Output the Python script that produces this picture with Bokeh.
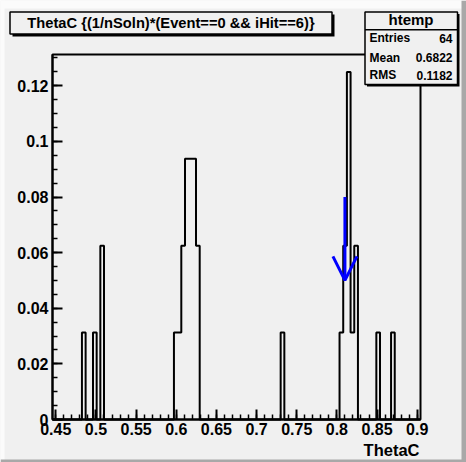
import numpy as np
from bokeh.plotting import figure
from bokeh.models import (Range1d, FixedTicker, CustomJSTickFormatter, Label,
                          BoxAnnotation, Arrow, OpenHead)
from bokeh.embed import file_html
from bokeh.resources import INLINE

# ---------------- data ----------------
title_text = "ThetaC {(1/nSoln)*(Event==0 && iHit==6)}"
x_axis_title = "ThetaC"
stats_name = "htemp"
stats_labels = ["Entries", "Mean", "RMS"]
stats_values = ["64", "0.6822", "0.1182"]

n_bins = 100
x_min, x_max = 0.4459, 0.9041
y_max = 0.13125
filled_bins = [8, 11, 13, 33, 34, 35, 36, 37, 38, 39, 62, 78, 79, 80, 81, 82, 88, 92]
bin_contents = [0.03125, 0.03125, 0.0625, 0.03125, 0.03125, 0.0625, 0.09375, 0.09375,
                0.09375, 0.0625, 0.03125, 0.03125, 0.0625, 0.125, 0.03125, 0.0625,
                0.03125, 0.03125]

x_major = [0.45, 0.5, 0.55, 0.6, 0.65, 0.7, 0.75, 0.8, 0.85, 0.9]
y_major = [0.0, 0.02, 0.04, 0.06, 0.08, 0.1, 0.12]

arrow_x = 0.81
arrow_y_start = 0.08
arrow_y_end = 0.05

# ---------------- layout ----------------
W, H = 466, 462
L, R, T, B = 52, 420, 54, 419       # histogram frame inside the canvas (px)
BG = "#f0f0f0"
FONT = "Liberation Sans"


def X(px):
    return x_min + (px - L) * (x_max - x_min) / (R - L)


def Y(py):
    return (B - py) * y_max / (B - T)


p = figure(width=W, height=H, output_backend="svg", toolbar_location=None,
           x_range=Range1d(X(0), X(W)), y_range=Range1d(Y(H), Y(0)),
           min_border=0)
p.background_fill_color = BG
p.border_fill_color = BG
p.outline_line_color = None
p.xgrid.visible = False
p.ygrid.visible = False

x_minor = [round(0.45 + 0.01 * i, 2) for i in range(46)]
y_minor = [round(0.005 * i, 3) for i in range(27)]
fmt = CustomJSTickFormatter(code="return String(parseFloat(tick.toFixed(4)));")

p.xaxis.fixed_location = 0.0
p.xaxis.bounds = (x_min, x_max)
p.yaxis.fixed_location = x_min
p.yaxis.bounds = (0.0, y_max)

for ax, maj, mnr in ((p.xaxis[0], x_major, x_minor), (p.yaxis[0], y_major, y_minor)):
    ax.ticker = FixedTicker(ticks=maj, minor_ticks=mnr)
    ax.formatter = fmt
    ax.major_tick_in = 10
    ax.major_tick_out = 0
    ax.minor_tick_in = 5
    ax.minor_tick_out = 0
    ax.axis_line_width = 2
    ax.major_tick_line_width = 2
    ax.minor_tick_line_width = 1.5
    ax.major_label_text_font = FONT
    ax.major_label_text_font_style = "bold"
    ax.major_label_text_font_size = "16px"
    ax.major_label_text_color = "black"
p.xaxis.major_label_standoff = 3
p.yaxis.major_label_standoff = 4

# frame (top / right edges)
p.add_layout(BoxAnnotation(left=x_min, right=x_max, bottom=0.0, top=y_max,
                           fill_color=None, line_color="black", line_width=2,
                           line_alpha=1.0))

# ---------------- histogram ----------------
edges = np.linspace(x_min, x_max, n_bins + 1)
contents = np.zeros(n_bins)
contents[filled_bins] = bin_contents
xs = np.concatenate([[edges[0]], np.repeat(edges, 2)[1:-1], [edges[-1]]])
ys = np.concatenate([[0.0], np.repeat(contents, 2), [0.0]])
p.line(xs, ys, line_color="black", line_width=2)

# ---------------- arrow ----------------
p.add_layout(Arrow(end=OpenHead(size=24, line_color="blue", line_width=3),
                   x_start=arrow_x, y_start=arrow_y_start,
                   x_end=arrow_x, y_end=arrow_y_end,
                   line_color="blue", line_width=3))


# ---------------- helpers ----------------
def box(l, t, r, b, fill, line=None, lw=0):
    p.add_layout(BoxAnnotation(left=X(l), right=X(r), top=Y(t), bottom=Y(b),
                               fill_color=fill, fill_alpha=1.0,
                               line_color=line if line else "black", line_width=lw,
                               line_alpha=1.0 if line else 0.0,
                               level="overlay"))


def text(px, py, s, align, size):
    p.add_layout(Label(x=X(px), y=Y(py), text=s, text_align=align,
                       text_baseline="middle", text_font=FONT,
                       text_font_style="bold", text_font_size=size,
                       text_color="black", level="overlay"))


# ---------------- canvas bevel ----------------
box(0, 0, W, 8, "#fbfbfb")
box(0, 0, 4, H, "#fbfbfb")
box(W - 5, 0, W, H, "#a8a8a8")
box(0, H - 3, W, H, "#a8a8a8")

# ---------------- title box ----------------
box(12, 14, 334, 36, "black")
box(9.5, 11.5, 331.5, 33.5, BG, "black", 1.5)
text(170.5, 22.5, title_text, "center", "14.7px")

# ---------------- stats box ----------------
box(366.5, 13.5, 459, 86, "black")
box(364.5, 11.5, 457, 84, BG, "black", 1.5)
box(364.5, 28.5, 457, 30, "black")
text(410.5, 18.5, stats_name, "center", "15px")
row_mid = [37.8, 57.2, 74.5]
for lab, val, ym in zip(stats_labels, stats_values, row_mid):
    text(369, ym, lab, "left", "12px")
    text(452, ym, val, "right", "12px")

# ---------------- x axis title ----------------
text(419, 449, x_axis_title, "right", "16.5px")

open("out.html", "w").write(file_html(p, INLINE))
